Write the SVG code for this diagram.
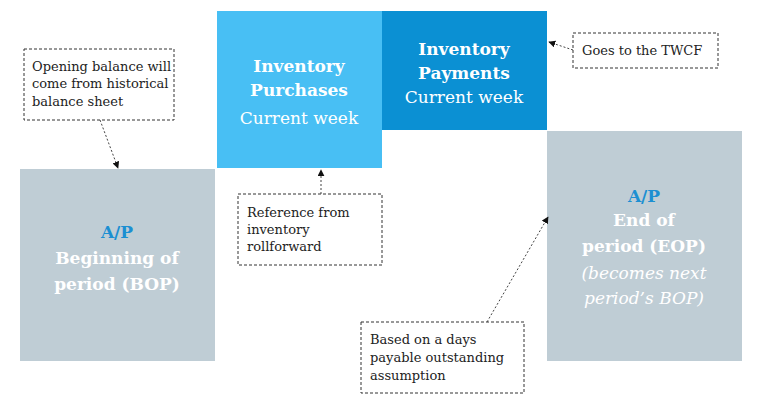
<svg xmlns="http://www.w3.org/2000/svg" width="768" height="408" viewBox="0 0 768 408">
<style>
text{font-family:"DejaVu Serif","Liberation Serif",serif}
.n{font-size:13px;fill:#222}
.w{fill:#fff;text-anchor:middle}
.b{font-weight:bold;font-size:17px}
.r{font-size:17px}
.note{fill:#fff;stroke:#333;stroke-dasharray:3,2;stroke-width:1}
.c{stroke:#444;stroke-width:1;stroke-dasharray:2,2;fill:none;marker-end:url(#a)}
</style>
<defs><marker id="a" viewBox="0 0 10 10" refX="9" refY="5" markerWidth="7" markerHeight="7" orient="auto"><path d="M0,0L10,5L0,10z" fill="#111"/></marker></defs>
<rect width="768" height="408" fill="#fff"/>
<g id="bop"><rect x="20" y="169" width="195" height="192" fill="#bfcdd5"/>
<text x="117" y="238" class="w b" style="fill:#1b8fd2">A/P</text>
<text class="w b"><tspan x="117" y="264">Beginning of</tspan><tspan x="117" y="290">period (BOP)</tspan></text></g>
<g id="purch"><rect x="217" y="11" width="165" height="157" fill="#48bff4"/>
<text class="w b"><tspan x="299" y="72">Inventory</tspan><tspan x="299" y="96">Purchases</tspan></text>
<text class="w r" x="299" y="124">Current week</text></g>
<g id="pay"><rect x="382" y="11" width="165" height="119" fill="#0b90d3"/>
<text class="w b"><tspan x="464" y="55">Inventory</tspan><tspan x="464" y="79">Payments</tspan></text>
<text class="w r" x="464" y="103">Current week</text></g>
<g id="eop"><rect x="547" y="131" width="195" height="230" fill="#bfcdd5"/>
<text x="644" y="202" class="w b" style="fill:#1b8fd2">A/P</text>
<text class="w b"><tspan x="644" y="226">End of</tspan><tspan x="644" y="252">period (EOP)</tspan></text>
<text class="w r" style="font-style:italic"><tspan x="644" y="279">(becomes next</tspan><tspan x="644" y="304">period’s BOP)</tspan></text></g>
<g id="n1"><rect x="24" y="49" width="150" height="71" class="note"/>
<text class="n"><tspan x="32" y="71">Opening balance will</tspan><tspan x="32" y="88">come from historical</tspan><tspan x="32" y="106">balance sheet</tspan></text></g>
<g id="n2"><rect x="238" y="194" width="144" height="71" class="note"/>
<text class="n"><tspan x="247" y="217">Reference from</tspan><tspan x="247" y="234">inventory</tspan><tspan x="247" y="251">rollforward</tspan></text></g>
<g id="n3"><rect x="573" y="33" width="145" height="35" class="note"/>
<text class="n" x="582" y="55">Goes to the TWCF</text></g>
<g id="n4"><rect x="361" y="322" width="163" height="71" class="note"/>
<text class="n"><tspan x="370" y="344">Based on a days</tspan><tspan x="370" y="362">payable outstanding</tspan><tspan x="370" y="380">assumption</tspan></text></g>
<g id="connectors">
<path class="c" d="M100,120L118,168"/>
<path class="c" d="M321,194L321,170"/>
<path class="c" d="M573,50L549,42"/>
<path class="c" d="M487,322L548,217"/>
</g>
</svg>
